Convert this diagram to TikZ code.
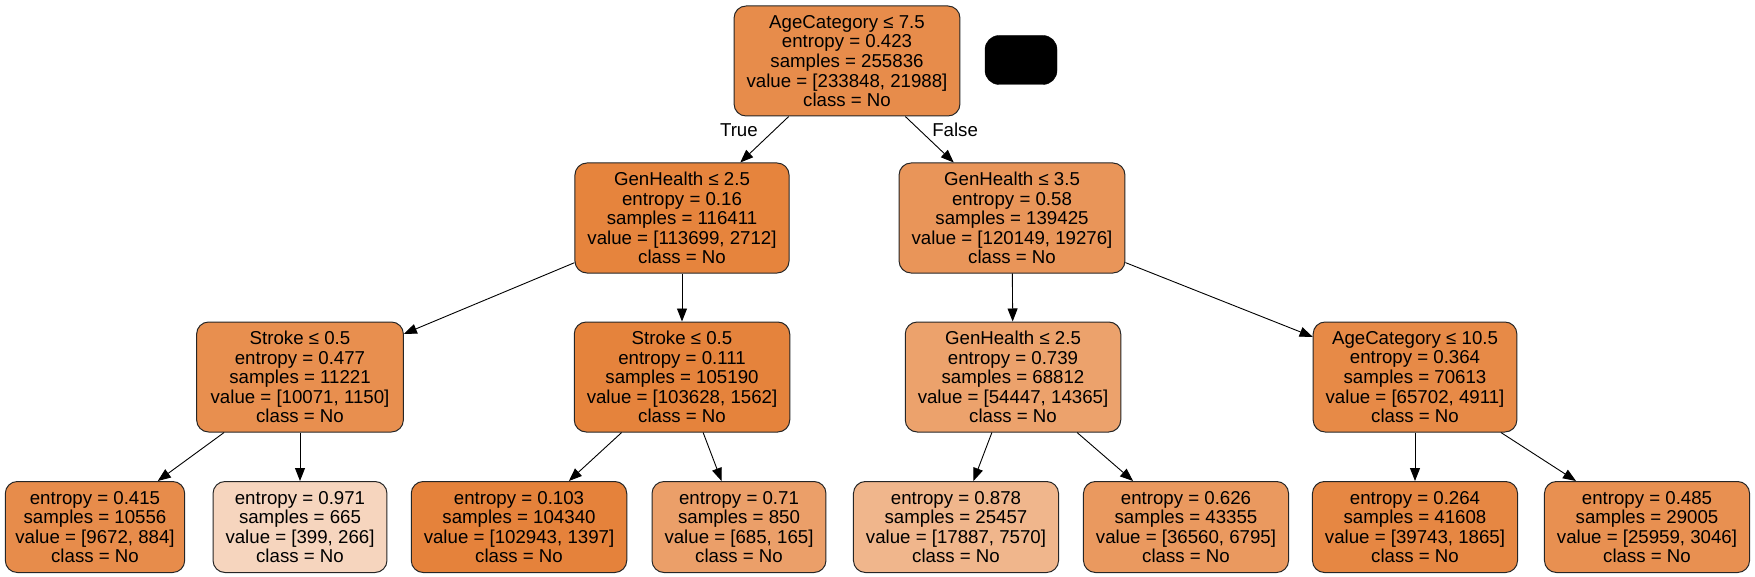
\documentclass[tikz,border=0pt]{standalone}
\usepackage{fontspec}
\setmainfont{Liberation Sans}
\usetikzlibrary{arrows.meta}
\definecolor{treeorg}{RGB}{229,129,57}
\begin{document}
\begin{tikzpicture}[x=1pt, y=-1pt,
    every node/.style={font=\fontsize{18.67}{19.6}\selectfont},
    split/.style={draw=black!85, line width=1pt, rounded corners=12pt, align=center,
        inner xsep=12.5pt, inner ysep=0pt, minimum height=110pt},
    leaf/.style={split, minimum height=91pt},
    edgelbl/.style={inner sep=0pt},
    treeedge/.style={-{Triangle[length=13pt,width=10pt]}, line width=0.9pt}]
    \useasboundingbox (0,0) rectangle (1755,577);
    % level 0
    \node[split, fill=treeorg!91] (root) at (847,61)
        {AgeCategory ≤ 7.5\\entropy = 0.423\\samples = 255836\\value = [233848, 21988]\\class = No};
    \node[draw=black, fill=black, rounded corners=14pt, minimum width=72pt, minimum height=49pt] (blob) at (1021,60) {};
    % level 1
    \node[split, fill=treeorg!98] (ghA) at (682,218)
        {GenHealth ≤ 2.5\\entropy = 0.16\\samples = 116411\\value = [113699, 2712]\\class = No};
    \node[split, fill=treeorg!84] (ghB) at (1012,218)
        {GenHealth ≤ 3.5\\entropy = 0.58\\samples = 139425\\value = [120149, 19276]\\class = No};
    % level 2
    \node[split, fill=treeorg!89, inner xsep=14pt] (strA) at (300,377)
        {Stroke ≤ 0.5\\entropy = 0.477\\samples = 11221\\value = [10071, 1150]\\class = No};
    \node[split, fill=treeorg!98.5] (strB) at (682,377)
        {Stroke ≤ 0.5\\entropy = 0.111\\samples = 105190\\value = [103628, 1562]\\class = No};
    \node[split, fill=treeorg!74] (ghC) at (1013,377)
        {GenHealth ≤ 2.5\\entropy = 0.739\\samples = 68812\\value = [54447, 14365]\\class = No};
    \node[split, fill=treeorg!93] (ageB) at (1415,377)
        {AgeCategory ≤ 10.5\\entropy = 0.364\\samples = 70613\\value = [65702, 4911]\\class = No};
    % leaves
    \node[leaf, fill=treeorg!91, inner xsep=10pt] (lf1) at (95,527)
        {entropy = 0.415\\samples = 10556\\value = [9672, 884]\\class = No};
    \node[leaf, fill=treeorg!33] (lf2) at (300,527)
        {entropy = 0.971\\samples = 665\\value = [399, 266]\\class = No};
    \node[leaf, fill=treeorg!99] (lf3) at (519,527)
        {entropy = 0.103\\samples = 104340\\value = [102943, 1397]\\class = No};
    \node[leaf, fill=treeorg!76] (lf4) at (739,527)
        {entropy = 0.71\\samples = 850\\value = [685, 165]\\class = No};
    \node[leaf, fill=treeorg!58] (lf5) at (956,527)
        {entropy = 0.878\\samples = 25457\\value = [17887, 7570]\\class = No};
    \node[leaf, fill=treeorg!81] (lf6) at (1186,527)
        {entropy = 0.626\\samples = 43355\\value = [36560, 6795]\\class = No};
    \node[leaf, fill=treeorg!95] (lf7) at (1415,527)
        {entropy = 0.264\\samples = 41608\\value = [39743, 1865]\\class = No};
    \node[leaf, fill=treeorg!88] (lf8) at (1647,527)
        {entropy = 0.485\\samples = 29005\\value = [25959, 3046]\\class = No};
    % edges
    \draw[treeedge] (root) -- node[edgelbl, pos=0.3, anchor=east, xshift=-16pt] {True} (ghA);
    \draw[treeedge] (root) -- node[edgelbl, pos=0.3, anchor=west, xshift=12pt] {False} (ghB);
    \draw[treeedge] (ghA) -- (strA);
    \draw[treeedge] (ghA) -- (strB);
    \draw[treeedge] (ghB) -- (ghC);
    \draw[treeedge] (ghB) -- (ageB);
    \draw[treeedge] (strA) -- (lf1);
    \draw[treeedge] (strA) -- (lf2);
    \draw[treeedge] (strB) -- (lf3);
    \draw[treeedge] (strB) -- (lf4);
    \draw[treeedge] (ghC) -- (lf5);
    \draw[treeedge] (ghC) -- (lf6);
    \draw[treeedge] (ageB) -- (lf7);
    \draw[treeedge] (ageB) -- (lf8);
\end{tikzpicture}
\end{document}
